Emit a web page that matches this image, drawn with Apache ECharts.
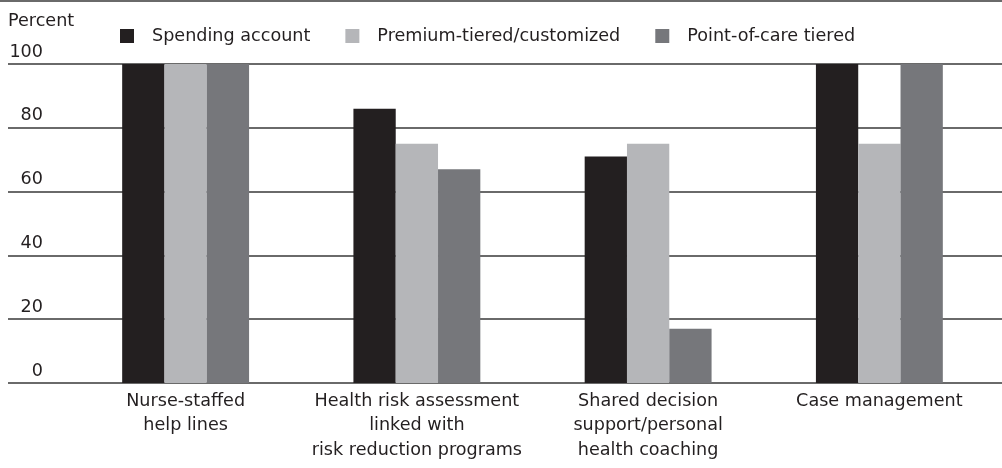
<!DOCTYPE html>
<html>
<head>
<meta charset="utf-8">
<script src="https://cdn.jsdelivr.net/npm/echarts@6/dist/echarts.min.js"></script>
<style>
  html, body { margin: 0; padding: 0; background: #ffffff; }
  #chart { width: 1002px; height: 468px; }
</style>
</head>
<body>
<div id="chart"></div>
<script>
// Share of plans offering each care-management feature, by plan type
const categories = [
  'Nurse-staffed\nhelp lines',
  'Health risk assessment\nlinked with\nrisk reduction programs',
  'Shared decision\nsupport/personal\nhealth coaching',
  'Case management'
];
const spendingAccount = [100, 86, 71, 100];
const premiumTiered = [100, 75, 75, 75];
const pointOfCareTiered = [100, 67, 17, 100];
const yTicks = [0, 20, 40, 60, 80, 100];

const FONT = 'DejaVu Sans';
const FONT_SIZE = 17.6;
const TEXT = '#231f20';
const GRID_LINE = '#383838';

const chart = echarts.init(document.getElementById('chart'), null, { renderer: 'canvas' });

const barSeries = (name, color, values) => ({
  name: name,
  type: 'bar',
  xAxisIndex: 1,
  yAxisIndex: 1,
  data: values,
  barWidth: 42.3,
  barGap: '0%',
  itemStyle: { color: color },
  emphasis: { disabled: true },
  animation: false
});

chart.setOption({
  animation: false,
  textStyle: { fontFamily: FONT, color: TEXT },
  title: {
    text: 'Percent',
    left: 3,
    top: 7,
    textStyle: { fontFamily: FONT, fontSize: FONT_SIZE, fontWeight: 'normal', color: TEXT }
  },
  legend: {
    left: 120,
    top: 27,
    padding: 0,
    icon: 'rect',
    itemWidth: 14,
    itemHeight: 14,
    itemGap: 35,
    selectedMode: false,
    textStyle: { fontFamily: FONT, fontSize: FONT_SIZE, color: TEXT, padding: [0, 0, 0, 13] },
    data: ['Spending account', 'Premium-tiered/customized', 'Point-of-care tiered']
  },
  graphic: [{
    type: 'line',
    shape: { x1: 0, y1: 1, x2: 1002, y2: 1 },
    style: { stroke: GRID_LINE, lineWidth: 1.5 },
    silent: true
  }],
  grid: [
    { left: 8, right: 0, top: 64, bottom: 85 },
    { left: 70, width: 925, top: 64, bottom: 85 }
  ],
  xAxis: [
    { type: 'value', gridIndex: 0, show: false, min: 0, max: 1 },
    {
      type: 'category',
      gridIndex: 1,
      data: categories,
      axisLine: { show: false },
      axisTick: { show: false },
      axisLabel: {
        interval: 0,
        margin: 6,
        fontFamily: FONT,
        fontSize: FONT_SIZE,
        lineHeight: 24.5,
        color: TEXT
      }
    }
  ],
  yAxis: [
    {
      type: 'value',
      gridIndex: 0,
      min: yTicks[0],
      max: yTicks[yTicks.length - 1],
      interval: 20,
      axisLine: { show: false },
      axisTick: { show: false },
      splitLine: { show: true, lineStyle: { color: GRID_LINE, width: 1.6 } },
      axisLabel: {
        inside: true,
        align: 'right',
        verticalAlign: 'bottom',
        margin: 35,
        padding: [0, 0, 3, 0],
        fontFamily: FONT,
        fontSize: FONT_SIZE,
        color: TEXT
      }
    },
    {
      type: 'value',
      gridIndex: 1,
      min: yTicks[0],
      max: yTicks[yTicks.length - 1],
      interval: 20,
      show: false
    }
  ],
  series: [
    barSeries('Spending account', '#231f20', spendingAccount),
    barSeries('Premium-tiered/customized', '#b5b6b9', premiumTiered),
    barSeries('Point-of-care tiered', '#76777b', pointOfCareTiered)
  ]
});
</script>
</body>
</html>
